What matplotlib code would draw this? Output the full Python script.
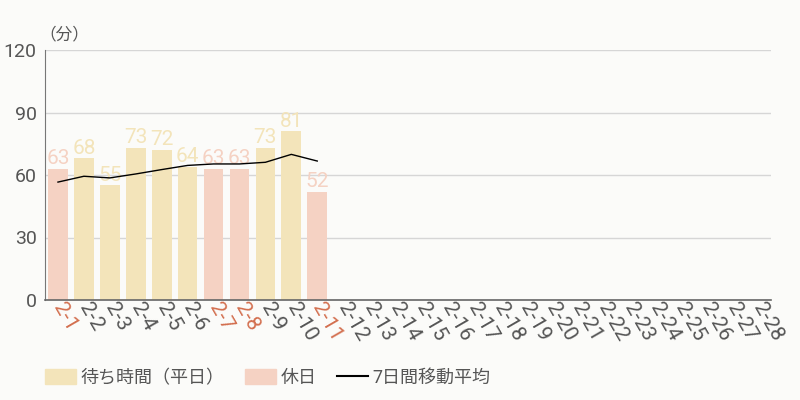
import matplotlib
matplotlib.use("Agg")
import matplotlib.pyplot as plt
from matplotlib.patches import Patch
from matplotlib.lines import Line2D

plt.rcParams['font.family'] = ['Roboto', 'Noto Sans CJK JP', 'DejaVu Sans']

# data
days = ["2-%d" % d for d in range(1, 29)]
wait_vals = [63, 68, 55, 73, 72, 64, 63, 63, 73, 81, 52]
holidays = ["2-1", "2-7", "2-8", "2-11"]
moving_avg = [56.6, 59.4, 58.6, 60.5, 62.6, 64.6, 65.3, 65.3, 66.1, 69.9, 66.7]
yticks = [0, 30, 60, 90, 120]

c_weekday = "#f3e4ba"
c_holiday = "#f5d2c3"
c_holiday_txt = "#d36f4f"
c_text = "#555555"
bg = "#fbfbf9"

fig = plt.figure(figsize=(8, 4), dpi=100, facecolor=bg)
ax = fig.add_axes([0.05625, 0.25, 0.9075, 0.625], facecolor=bg)

x = list(range(len(days)))
for i, v in enumerate(wait_vals):
    col = c_holiday if days[i] in holidays else c_weekday
    ax.bar(i, v, width=0.76, color=col, zorder=2)
    ax.text(i, v + 0.3, str(v), ha="center", va="bottom", color=col,
            fontsize=15, zorder=3)

ax.plot(range(len(moving_avg)), moving_avg, color="black", lw=1, zorder=4)

ax.set_xlim(-0.5, len(days) - 0.5)
ax.set_ylim(0, 120)
ax.set_yticks(yticks)
ax.set_yticklabels([str(t) for t in yticks], fontsize=14, color=c_text)
ax.grid(axis="y", color="#d6d6d6", lw=1, zorder=0)
ax.tick_params(axis="y", length=0, pad=6)
ax.tick_params(axis="x", length=0, pad=3)
for s in ["top", "right"]:
    ax.spines[s].set_visible(False)
ax.spines["left"].set_color("#777777")
ax.spines["bottom"].set_color("#666666")
ax.spines["bottom"].set_linewidth(1.2)

ax.set_xticks(x)
ax.set_xticklabels(days, rotation=-60, ha="left", va="center",
                   rotation_mode="anchor", fontsize=15)
for lbl in ax.get_xticklabels():
    lbl.set_color(c_holiday_txt if lbl.get_text() in holidays else c_text)

fig.text(0.08, 0.915, "（分）", fontsize=12, color=c_text, ha="center", va="center")

handles = [Patch(color=c_weekday), Patch(color=c_holiday),
           Line2D([0], [0], color="black", lw=1.5)]
fig.legend(handles, ["待ち時間（平日）", "休日", "7日間移動平均"],
           loc="center left", bbox_to_anchor=(0.056, 0.055), ncol=3,
           frameon=False, fontsize=13, labelcolor=c_text, borderpad=0,
           borderaxespad=0,
           handlelength=1.75, handleheight=0.9, columnspacing=1.1,
           handletextpad=0.25)

fig.savefig("out.png", dpi=100, facecolor=bg)
